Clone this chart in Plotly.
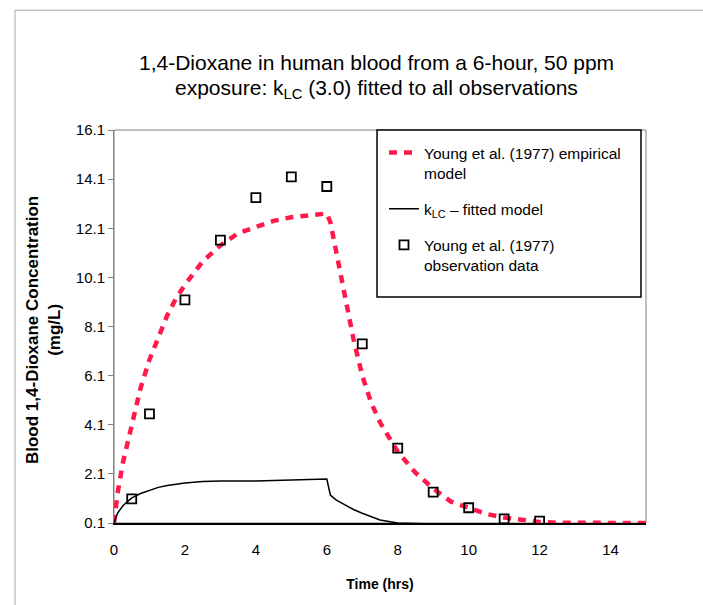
import plotly.graph_objects as go

# Young et al. (1977) empirical model (mg/L vs hours)
emp_time = [0, 0.1, 0.25, 0.5, 0.75, 1.0, 1.25, 1.5, 1.75, 2.0, 2.5, 3.0, 3.5, 4.0, 4.5,
            5.0, 5.5, 6.0, 6.1, 6.25, 6.5, 6.75, 7.0, 7.25, 7.5, 7.75, 8.0, 8.5, 9.0,
            9.5, 10.0, 10.5, 11.0, 11.5, 12.0, 12.5, 13.0, 14.0, 15.0]
emp_conc = [0.1, 1.3, 2.55, 4.1, 5.6, 6.75, 7.7, 8.55, 9.25, 9.8, 10.75, 11.4, 11.9,
            12.15, 12.4, 12.55, 12.62, 12.7, 12.35, 11.2, 9.3, 7.6, 6.1, 5.0, 4.2,
            3.6, 3.0, 2.15, 1.5, 0.97, 0.7, 0.47, 0.32, 0.22, 0.14, 0.11, 0.1, 0.1, 0.1]

# k_LC (3.0) fitted PBPK model
fit_time = [0, 0.05, 0.1, 0.25, 0.5, 0.75, 1.0, 1.25, 1.5, 2.0, 2.5, 3.0, 4.0, 4.5,
            5.0, 5.5, 6.0, 6.1, 6.25, 6.5, 6.75, 7.0, 7.5, 8.0, 8.5, 9.0, 10.0, 11.0,
            12.0, 13.0, 14.0, 15.0]
fit_conc = [0.1, 0.35, 0.5, 0.8, 1.12, 1.3, 1.42, 1.55, 1.63, 1.73, 1.79, 1.81, 1.81,
            1.83, 1.85, 1.87, 1.89, 1.24, 1.05, 0.85, 0.65, 0.5, 0.22, 0.1, 0.07,
            0.06, 0.05, 0.04, 0.04, 0.04, 0.04, 0.04]

# Young et al. (1977) observations
obs_time = [0.5, 1, 2, 3, 4, 5, 6, 7, 8, 9, 10, 11, 12]
obs_conc = [1.08, 4.54, 9.18, 11.62, 13.35, 14.19, 13.8, 7.39, 3.15, 1.36, 0.72, 0.27, 0.18]

x_ticks = [0, 2, 4, 6, 8, 10, 12, 14]
y_ticks = [0.1, 2.1, 4.1, 6.1, 8.1, 10.1, 12.1, 14.1, 16.1]

FONT = "Liberation Sans, Arial, sans-serif"

fig = go.Figure()

fig.add_trace(go.Scatter(
    x=emp_time, y=emp_conc, mode="lines",
    name="Young et al. (1977) empirical<br>model",
    line=dict(color="#ff1a4b", width=4.5, dash="8px,7px"),
    legendgroup="a",
))
fig.add_trace(go.Scatter(
    x=fit_time, y=fit_conc, mode="lines",
    name="k<sub>LC</sub> \u2013 fitted model",
    line=dict(color="black", width=1.5),
    legendgroup="b",
))
fig.add_trace(go.Scatter(
    x=obs_time, y=obs_conc, mode="markers",
    name="Young et al. (1977)<br>observation data",
    marker=dict(symbol="square-open", size=9, color="black", line=dict(width=1.8)),
    legendgroup="c",
))

fig.update_layout(
    width=703, height=605,
    margin=dict(l=114, r=57, t=130, b=82),
    paper_bgcolor="white", plot_bgcolor="white",
    font=dict(family=FONT, color="black", size=15),
    showlegend=True,
    legend=dict(
        x=0.5075, y=0.985, xanchor="left", yanchor="top",
        borderwidth=0, bgcolor="rgba(0,0,0,0)",
        font=dict(family=FONT, size=15.5), tracegroupgap=13,
        traceorder="grouped", valign="top",
    ),
    xaxis=dict(
        range=[0, 15], tickvals=x_ticks, ticktext=[str(v) for v in x_ticks],
        showgrid=False, zeroline=False, showline=True, linecolor="black", linewidth=1.5,
        ticks="", tickfont=dict(size=15), ticklabelstandoff=12,
        title=dict(text="<b>Time (hrs)</b>", font=dict(size=14), standoff=22),
    ),
    yaxis=dict(
        range=[0.1, 16.1], tickvals=y_ticks, ticktext=[f"{v:.1f}" for v in y_ticks],
        showgrid=False, zeroline=False, showline=True, linecolor="#808080", linewidth=1,
        ticks="outside", ticklen=5, tickcolor="#808080", tickfont=dict(size=15),
    ),
    shapes=[
        # plot-area border
        dict(type="rect", xref="x domain", yref="y domain", x0=0, x1=1, y0=0, y1=1,
             line=dict(color="#808080", width=1), layer="below"),
        # legend frame
        dict(type="rect", xref="paper", yref="paper", x0=0.4944, x1=0.9906, y0=0.575, y1=1.0,
             line=dict(color="black", width=1.5), fillcolor="white", layer="above"),
        # outer chart frame
        dict(type="rect", xref="paper", yref="paper", x0=-0.186, x1=1.12, y0=-0.23, y1=1.305,
             line=dict(color="#c4c4c4", width=1.5), layer="below"),
    ],
    annotations=[
        dict(text="1,4-Dioxane in human blood from a 6-hour, 50 ppm", xref="paper", yref="paper",
             x=0.494, y=1.173, xanchor="center", yanchor="middle", showarrow=False,
             font=dict(size=21)),
        dict(text="exposure: k<sub>LC</sub> (3.0) fitted to all observations", xref="paper", yref="paper",
             x=0.494, y=1.105, xanchor="center", yanchor="middle", showarrow=False,
             font=dict(size=21)),
        dict(text="<b>Blood 1,4-Dioxane Concentration<br>(mg/L)</b>", xref="paper", yref="paper",
             x=-0.1335, y=0.491, xanchor="center", yanchor="middle", showarrow=False,
             textangle=-90, font=dict(size=17)),
    ],
)

fig.write_html("out.html")
